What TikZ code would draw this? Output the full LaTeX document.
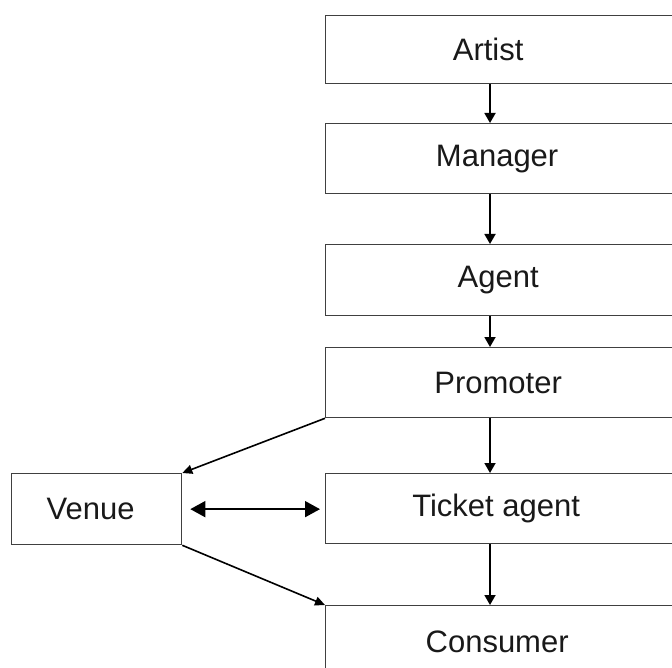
\documentclass[tikz,border=0pt]{standalone}
\usepackage{fontspec}
\setmainfont{Liberation Sans}
\usetikzlibrary{arrows.meta}
\begin{document}
\begin{tikzpicture}[x=1pt, y=-1pt,
  stagebox/.style={draw=black!75, line width=1.3pt, rectangle, inner sep=0pt,
    minimum height=70pt, minimum width=355pt, anchor=north west},
  stagetext/.style={font=\fontsize{31}{36}\selectfont, text=black!90},
  flow/.style={line width=1.8pt, -{Triangle[width=11pt,length=10pt]}},
  link/.style={line width=1.6pt, -{Triangle[width=9pt,length=10pt]}},
  both/.style={line width=1.6pt, {Triangle[width=16pt,length=15pt]}-{Triangle[width=16pt,length=15pt]}}]
  \useasboundingbox (0,0) rectangle (672,668);
  \begin{scope}
    \clip (0,0) rectangle (672,668);
    % main chain of boxes, running off the right side
    \node[stagebox, minimum height=68pt, label={[stagetext, xshift=-15pt]center:Artist}] (artist) at (325,15) {};
    \node[stagebox, label={[stagetext, xshift=-6pt]center:Manager}] (manager) at (325,123) {};
    \node[stagebox, minimum height=71pt, label={[stagetext, xshift=-5pt]center:Agent}] (agent) at (325,244) {};
    \node[stagebox, label={[stagetext, xshift=-5pt]center:Promoter}] (promoter) at (325,347) {};
    \node[stagebox, label={[stagetext, xshift=-7pt]center:Ticket agent}] (ticket) at (325,473) {};
    \node[stagebox, minimum height=90pt, label={[stagetext, xshift=-6pt, yshift=9pt]center:Consumer}] (consumer) at (325,605) {};
    % the venue on the left
    \node[stagebox, minimum width=170pt, minimum height=71pt, label={[stagetext, xshift=-6pt]center:Venue}] (venue) at (11,473) {};
  \end{scope}
  \coordinate (axis) at (490,0);
  \draw[flow] (artist.south -| axis) -- (manager.north -| axis);
  \draw[flow] (manager.south -| axis) -- (agent.north -| axis);
  \draw[flow] (agent.south -| axis) -- (promoter.north -| axis);
  \draw[flow] (promoter.south -| axis) -- (ticket.north -| axis);
  \draw[flow] (ticket.south -| axis) -- (consumer.north -| axis);
  \draw[link] (promoter.south west) -- (venue.north east);
  \draw[link] (venue.south east) -- (consumer.north west);
  \draw[both] ([xshift=8pt]venue.east) -- ([xshift=-5pt]ticket.west |- venue.east);
\end{tikzpicture}
\end{document}
